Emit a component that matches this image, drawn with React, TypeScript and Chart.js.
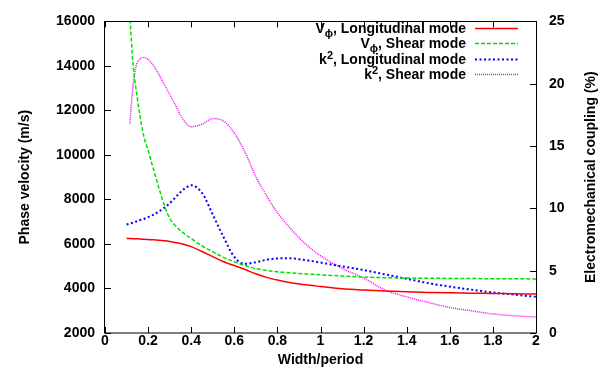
import React, { useEffect, useRef } from "react";
import { Chart, registerables } from "chart.js";

Chart.register(...registerables);

// ---- data ----
const widthPeriod = [0.1, 0.115, 0.13, 0.145, 0.16, 0.18, 0.2, 0.225, 0.25, 0.275, 0.3, 0.325, 0.35, 0.375, 0.4, 0.45, 0.5, 0.55, 0.6, 0.65, 0.7, 0.75, 0.8, 0.85, 0.9, 0.95, 1.0, 1.1, 1.2, 1.3, 1.4, 1.5, 1.6, 1.7, 1.8, 1.9, 2.0];
const vLongitudinal = [6250, 6245, 6240, 6232, 6225, 6212, 6200, 6185, 6165, 6140, 6110, 6070, 6020, 5955, 5880, 5660, 5430, 5200, 5030, 4850, 4660, 4500, 4380, 4280, 4205, 4140, 4090, 3990, 3930, 3885, 3850, 3825, 3805, 3790, 3775, 3760, 3750];
const vShear = [18500, 16300, 14100, 12900, 11900, 10850, 10200, 9350, 8520, 7750, 7150, 6840, 6600, 6410, 6240, 5920, 5650, 5400, 5200, 5030, 4890, 4810, 4750, 4710, 4675, 4645, 4615, 4560, 4510, 4485, 4470, 4460, 4452, 4446, 4440, 4435, 4430];
const kLongitudinal = [8.7, 8.78, 8.85, 8.95, 9.05, 9.15, 9.3, 9.5, 9.75, 10.05, 10.4, 10.85, 11.3, 11.65, 11.85, 11.25, 9.5, 7.7, 6.1, 5.55, 5.68, 5.88, 5.98, 6.0, 5.92, 5.8, 5.65, 5.35, 5.05, 4.7, 4.35, 4.0, 3.72, 3.48, 3.25, 3.08, 2.9];
const kShear = [null, 16.8, 19.8, 21.45, 21.95, 22.1, 21.95, 21.45, 20.75, 19.95, 19.15, 18.35, 17.5, 16.85, 16.55, 16.75, 17.2, 17.0, 16.05, 14.5, 12.55, 11.0, 9.65, 8.6, 7.65, 6.85, 6.2, 5.2, 4.4, 3.45, 2.9, 2.45, 2.05, 1.78, 1.53, 1.38, 1.28];

const xTickLabels = ["0", "0.2", "0.4", "0.6", "0.8", "1", "1.2", "1.4", "1.6", "1.8", "2"];
const yTickLabels = ["2000", "4000", "6000", "8000", "10000", "12000", "14000", "16000"];
const y2TickLabels = ["0", "5", "10", "15", "20", "25"];

const legendBase = ["V", "V", "k", "k"];
const legendScript = ["\u03D5", "\u03D5", "2", "2"];
const legendRest = [", Longitudinal mode", ", Shear mode", ", Longitudinal mode", ", Shear mode"];

const xTitle = "Width/period";
const yTitle = "Phase velocity (m/s)";
const y2Title = "Electromechanical coupling (%)";

// ---- styles ----
const FONT = '"Liberation Sans", Arial, sans-serif';
const styles = [
  { color: "#ff0000", dash: [] as number[], width: 1.5 },
  { color: "#00e000", dash: [4, 2], width: 1.5 },
  { color: "#0000ff", dash: [2, 2.5], width: 2 },
  { color: "#ff00ff", dash: [1, 1], width: 1.5 },
];

const toPoints = (ys: (number | null)[]) =>
  widthPeriod.map((x, i) => ({ x, y: ys[i] })).filter((p) => p.y !== null);

const framePlugin = {
  id: "frame",
  afterDraw(chart: any) {
    const { ctx, chartArea, scales } = chart;
    const { left, right, top, bottom } = chartArea;
    const L = 6;
    ctx.save();
    ctx.strokeStyle = "#000";
    ctx.lineWidth = 1;
    ctx.setLineDash([]);
    ctx.beginPath();
    scales.x.ticks.forEach((t: any) => {
      const px = Math.round(scales.x.getPixelForValue(t.value)) + 0.5;
      ctx.moveTo(px, bottom);
      ctx.lineTo(px, bottom - L);
      ctx.moveTo(px, top);
      ctx.lineTo(px, top + L);
    });
    scales.y.ticks.forEach((t: any) => {
      const py = Math.round(scales.y.getPixelForValue(t.value)) + 0.5;
      ctx.moveTo(left, py);
      ctx.lineTo(left + L, py);
    });
    scales.y2.ticks.forEach((t: any) => {
      const py = Math.round(scales.y2.getPixelForValue(t.value)) + 0.5;
      ctx.moveTo(right, py);
      ctx.lineTo(right - L, py);
    });
    ctx.stroke();
    ctx.strokeRect(Math.round(left) - 0.5, Math.round(top) + 0.5, Math.round(right - left) + 1, Math.round(bottom - top) - 0.5);

    // right axis title (reads bottom to top)
    ctx.fillStyle = "#000";
    ctx.font = `bold 14px ${FONT}`;
    ctx.textAlign = "center";
    ctx.textBaseline = "middle";
    ctx.translate(591, (top + bottom) / 2);
    ctx.rotate(-Math.PI / 2);
    ctx.fillText(y2Title, 0, 0);
    ctx.restore();

    // legend
    ctx.save();
    const textRight = 466;
    const lineX0 = 475;
    const lineX1 = 518;
    for (let i = 0; i < legendBase.length; i++) {
      const cy = 27.5 + i * 15.6;
      const base = cy + 5;
      ctx.fillStyle = "#000";
      ctx.textBaseline = "alphabetic";
      ctx.textAlign = "left";
      ctx.font = `bold 14px ${FONT}`;
      const wRest = ctx.measureText(legendRest[i]).width;
      const wBase = ctx.measureText(legendBase[i]).width;
      ctx.font = `bold 11px ${FONT}`;
      const wScript = ctx.measureText(legendScript[i]).width;
      let x = textRight - wRest - wScript - wBase;
      ctx.font = `bold 14px ${FONT}`;
      ctx.fillText(legendBase[i], x, base);
      x += wBase;
      ctx.font = `bold 11px ${FONT}`;
      const isSub = i < 2;
      ctx.fillText(legendScript[i], x, isSub ? base + 4 : base - 5);
      x += wScript;
      ctx.font = `bold 14px ${FONT}`;
      ctx.fillText(legendRest[i], x, base);

      const st = styles[i];
      ctx.strokeStyle = st.color;
      ctx.lineWidth = st.width;
      ctx.setLineDash(st.dash);
      ctx.beginPath();
      ctx.moveTo(lineX0, Math.round(cy) + 0.5);
      ctx.lineTo(lineX1, Math.round(cy) + 0.5);
      ctx.stroke();
    }
    ctx.restore();
  },
};

export default function App() {
  const canvasRef = useRef<HTMLCanvasElement | null>(null);

  useEffect(() => {
    if (!canvasRef.current) return;
    const series = [vLongitudinal, vShear, kLongitudinal, kShear];
    const axes = ["y", "y", "y2", "y2"];
    const tickFont = { family: FONT, size: 14, weight: "bold" as const };
    const chart = new Chart(canvasRef.current, {
      type: "line",
      data: {
        datasets: series.map((s, i) => ({
          data: toPoints(s) as any,
          yAxisID: axes[i],
          borderColor: styles[i].color,
          borderWidth: styles[i].width,
          borderDash: styles[i].dash,
          pointRadius: 0,
          fill: false,
          cubicInterpolationMode: "monotone" as const,
        })),
      },
      options: {
        responsive: false,
        maintainAspectRatio: false,
        animation: false,
        events: [],
        layout: { padding: { top: 15, left: 0, right: 0, bottom: 0 } },
        plugins: { legend: { display: false }, tooltip: { enabled: false } },
        scales: {
          x: {
            type: "linear",
            min: 0,
            max: 2,
            grid: { display: false, drawTicks: false },
            border: { display: false },
            afterBuildTicks: (s: any) => {
              s.ticks = xTickLabels.map((l) => ({ value: Number(l) }));
            },
            afterFit: (s: any) => {
              s.height = 48;
            },
            ticks: {
              font: tickFont,
              color: "#000",
              padding: 0,
              maxRotation: 0,
              autoSkip: false,
              callback: (_v: any, i: number) => xTickLabels[i],
            },
            title: {
              display: true,
              text: xTitle,
              font: tickFont,
              color: "#000",
              padding: { top: 0, bottom: 12 },
            },
          },
          y: {
            type: "linear",
            position: "left",
            min: 2000,
            max: 16000,
            grid: { display: false, drawTicks: false },
            border: { display: false },
            afterBuildTicks: (s: any) => {
              s.ticks = yTickLabels.map((l) => ({ value: Number(l) }));
            },
            afterFit: (s: any) => {
              s.width = 105;
            },
            ticks: {
              font: tickFont,
              color: "#000",
              padding: 10,
              autoSkip: false,
              callback: (_v: any, i: number) => yTickLabels[i],
            },
            title: {
              display: true,
              text: yTitle,
              font: tickFont,
              color: "#000",
              padding: { top: 17, bottom: 0 },
            },
          },
          y2: {
            type: "linear",
            position: "right",
            min: 0,
            max: 25,
            grid: { display: false, drawTicks: false },
            border: { display: false },
            afterBuildTicks: (s: any) => {
              s.ticks = y2TickLabels.map((l) => ({ value: Number(l) }));
            },
            afterFit: (s: any) => {
              s.width = 76;
            },
            ticks: {
              font: tickFont,
              color: "#000",
              padding: 13,
              autoSkip: false,
              callback: (_v: any, i: number) => y2TickLabels[i],
            },
          },
        },
      },
      plugins: [framePlugin],
    });
    return () => chart.destroy();
  }, []);

  return (
    <div style={{ position: "fixed", left: 0, top: 0, width: 612, height: 381, background: "#fff" }}>
      <canvas ref={canvasRef} width={612} height={381} />
    </div>
  );
}
